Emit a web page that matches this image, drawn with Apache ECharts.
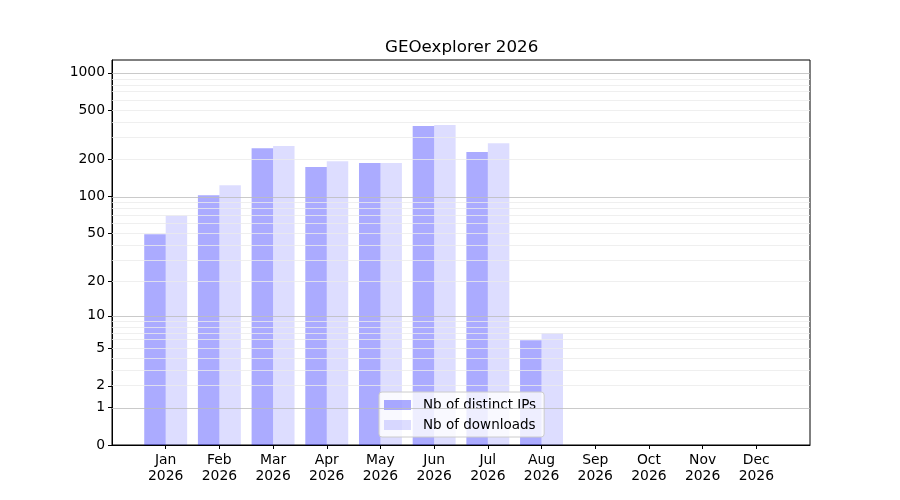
<!DOCTYPE html>
<html>
<head>
<meta charset="utf-8">
<title>GEOexplorer 2026</title>
<script src="https://cdn.jsdelivr.net/npm/echarts@6/dist/echarts.min.js"></script>
<style>
  html, body { margin: 0; padding: 0; background: #fff; }
  #chart { width: 900px; height: 500px; }
</style>
</head>
<body>
<div id="chart"></div>
<script>
// Chart data
var months = ['Jan', 'Feb', 'Mar', 'Apr', 'May', 'Jun', 'Jul', 'Aug', 'Sep', 'Oct', 'Nov', 'Dec'];
var year = '2026';
var distinctIPs = [49, 102, 246, 173, 187, 373, 229, 6, 0, 0, 0, 0];
var downloads = [70, 123, 257, 193, 187, 380, 270, 7, 0, 0, 0, 0];
var yTicks = [0, 1, 2, 5, 10, 20, 50, 100, 200, 500, 1000];
var majorGrid = [1, 10, 100, 1000];
var yTop = 1270;

// The y scale is log10(v + 1)
function toAxis(v) {
    return Math.log10(v + 1);
}
function fromAxis(t) {
    return Math.round(Math.pow(10, t) - 1);
}

// Minor grid lines at 2..9 of each decade
var minorGrid = [];
for (var d = 1; d <= 1000; d *= 10) {
    for (var m = 2; m <= 9; m++) {
        if (d * m < yTop) minorGrid.push(d * m);
    }
}

function toPoints(values) {
    return values.map(function (v, i) { return [i, toAxis(v)]; });
}

var gridLines = minorGrid.map(function (v) {
    return { yAxis: toAxis(v), lineStyle: { color: '#ebebeb', width: 0.8 } };
}).concat(majorGrid.map(function (v) {
    return { yAxis: toAxis(v), lineStyle: { color: '#bdbdbd', width: 0.8 } };
}));

var monthIdx = months.map(function (m, i) { return i; });

var chart = echarts.init(document.getElementById('chart'), null, { renderer: 'canvas' });

var font = 'DejaVu Sans';

chart.setOption({
    animation: false,
    textStyle: { fontFamily: font },
    title: {
        text: 'GEOexplorer ' + year,
        left: 380,
        top: 34,
        textStyle: { fontFamily: font, fontSize: 16.7, fontWeight: 'normal', color: '#000' }
    },
    grid: {
        left: 112, right: 90, top: 60, bottom: 55,
        show: true, borderColor: '#000', borderWidth: 1, backgroundColor: 'transparent'
    },
    legend: {
        orient: 'vertical',
        left: 379,
        top: 392,
        padding: [6, 8, 5, 5],
        itemGap: 6,
        itemWidth: 27,
        itemHeight: 10,
        icon: 'rect',
        backgroundColor: 'rgba(255,255,255,0.8)',
        borderColor: '#cccccc',
        borderWidth: 1,
        borderRadius: 3,
        textStyle: { fontFamily: font, fontSize: 13.5, color: '#000', padding: [0, 0, 0, 7] },
        data: ['Nb of distinct IPs', 'Nb of downloads']
    },
    xAxis: {
        type: 'value',
        min: -1,
        max: 12,
        splitLine: { show: false },
        axisLine: { show: true, onZero: false, lineStyle: { color: '#000', width: 1 } },
        axisTick: { show: true, length: 4, customValues: monthIdx, lineStyle: { color: '#000' } },
        axisLabel: {
            customValues: monthIdx,
            margin: 7,
            fontFamily: font,
            fontSize: 13.9,
            lineHeight: 16,
            color: '#000',
            formatter: function (v) { return months[v] + '\n' + year; }
        }
    },
    yAxis: {
        type: 'value',
        min: 0,
        max: toAxis(yTop),
        splitLine: { show: false },
        axisLine: { show: true, onZero: false, lineStyle: { color: '#000', width: 1 } },
        axisTick: { show: true, length: 4, customValues: yTicks.map(toAxis), lineStyle: { color: '#000' } },
        axisLabel: {
            customValues: yTicks.map(toAxis),
            margin: 7,
            padding: [3, 0, 0, 0],
            fontFamily: font,
            fontSize: 13.9,
            color: '#000',
            formatter: function (v) { return String(fromAxis(v)); }
        }
    },
    series: [
        {
            name: 'Nb of distinct IPs',
            type: 'bar',
            barWidth: '40%',
            barGap: '0%',
            itemStyle: { color: 'rgba(0,0,255,0.33)' },
            data: toPoints(distinctIPs),
            markLine: {
                silent: true,
                symbol: 'none',
                label: { show: false },
                lineStyle: { type: 'solid' },
                data: gridLines
            }
        },
        {
            name: 'Nb of downloads',
            type: 'bar',
            barWidth: '40%',
            barGap: '0%',
            itemStyle: { color: 'rgba(0,0,255,0.135)' },
            data: toPoints(downloads)
        }
    ]
});

window.addEventListener('resize', function () {
    if (chart) chart.resize();
});
</script>
</body>
</html>
